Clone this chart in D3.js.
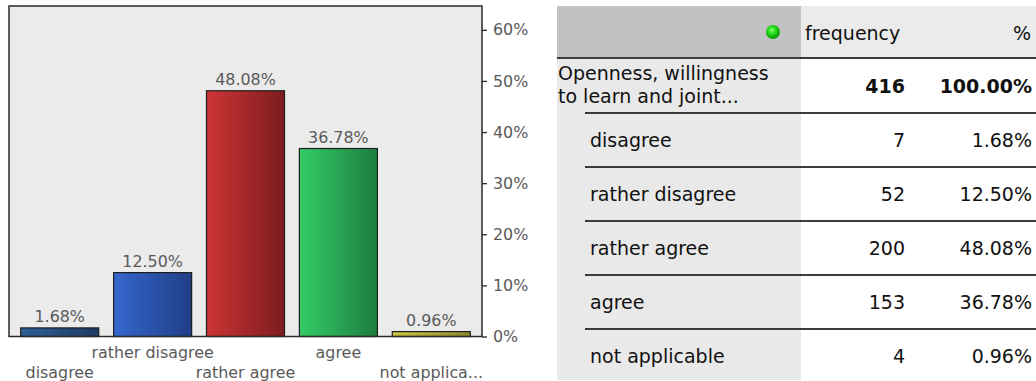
<!DOCTYPE html>
<html>
<head>
<meta charset="utf-8">
<script src="https://cdn.jsdelivr.net/npm/d3@7"></script>
<style>
  html, body { margin: 0; padding: 0; background: #fff; }
  svg { display: block; }
</style>
</head>
<body>
<svg id="view" width="1036" height="381"></svg>
<script>
// Survey item and its answer distribution
const question = ["Openness, willingness", "to learn and joint..."];
const categories = ["disagree", "rather disagree", "rather agree", "agree", "not applicable"];
const axisLabels = ["disagree", "rather disagree", "rather agree", "agree", "not applica..."];
const counts = [7, 52, 200, 153, 4];
const percents = [1.68, 12.50, 48.08, 36.78, 0.96];
const total = 416;
const totalPercent = "100.00%";
const yTicks = [0, 10, 20, 30, 40, 50, 60];
const colHeaders = ["frequency", "%"];
const barColors = [
  ["#2f6098", "#1c3a62"],
  ["#3567cd", "#203e86"],
  ["#cd3435", "#7c1c1e"],
  ["#34cc67", "#1d7d3f"],
  ["#cbc642", "#8d8829"]
];

const svg = d3.select("#view");
const chartFont = "'DejaVu Sans', Verdana, sans-serif";
const chartSize = 15.9;

// ---------- bar chart ----------
const plot = { left: 9, right: 482, top: 6, bottom: 336.5 };

const x = d3.scaleBand()
  .domain(categories)
  .range([plot.left, plot.right])
  .paddingInner(0.16)
  .paddingOuter(0.126);

const y = d3.scaleLinear()
  .domain([0, 64.66])
  .range([plot.bottom, plot.top]);

const defs = svg.append("defs");
categories.forEach((c, i) => {
  const g = defs.append("linearGradient")
    .attr("id", "bar" + i)
    .attr("x1", "0").attr("x2", "1").attr("y1", "0").attr("y2", "0");
  g.append("stop").attr("offset", "0").attr("stop-color", barColors[i][0]);
  g.append("stop").attr("offset", "1").attr("stop-color", barColors[i][1]);
});

const chart = svg.append("g");

chart.append("rect")
  .attr("x", plot.left).attr("y", plot.top)
  .attr("width", plot.right - plot.left)
  .attr("height", plot.bottom - plot.top)
  .attr("fill", "#ebebeb");

chart.selectAll("rect.bar")
  .data(categories)
  .join("rect")
  .attr("class", "bar")
  .attr("x", d => x(d))
  .attr("y", (d, i) => y(percents[i]))
  .attr("width", x.bandwidth())
  .attr("height", (d, i) => y(0) - y(percents[i]))
  .attr("fill", (d, i) => `url(#bar${i})`)
  .attr("stroke", "#1e1e1e")
  .attr("stroke-width", 1.2);

chart.selectAll("text.val")
  .data(categories)
  .join("text")
  .attr("class", "val")
  .attr("x", d => x(d) + x.bandwidth() / 2)
  .attr("y", (d, i) => y(percents[i]) - 6)
  .attr("text-anchor", "middle")
  .attr("font-family", chartFont)
  .attr("font-size", chartSize)
  .attr("fill", "#5a5a5a")
  .text((d, i) => percents[i].toFixed(2) + "%");

// plot frame
chart.append("rect")
  .attr("x", plot.left).attr("y", plot.top)
  .attr("width", plot.right - plot.left)
  .attr("height", plot.bottom - plot.top)
  .attr("fill", "none")
  .attr("stroke", "#2a2a2a")
  .attr("stroke-width", 1.5);

// value axis on the right
const yAxis = chart.append("g")
  .attr("transform", `translate(${plot.right},0)`)
  .call(d3.axisRight(y).tickValues(yTicks).tickSize(5).tickPadding(6).tickFormat(d => d + "%"));
yAxis.select(".domain").remove();
yAxis.selectAll(".tick line").attr("stroke", "#2a2a2a").attr("stroke-width", 1.3);
yAxis.selectAll(".tick text")
  .attr("font-family", chartFont)
  .attr("font-size", chartSize)
  .attr("fill", "#5a5a5a");

// category axis with staggered labels
const xAxis = chart.append("g")
  .attr("transform", `translate(0,${plot.bottom})`)
  .call(d3.axisBottom(x).tickSize(0).tickFormat((d, i) => axisLabels[i]));
xAxis.select(".domain").remove();
xAxis.selectAll(".tick text")
  .attr("font-family", chartFont)
  .attr("font-size", chartSize)
  .attr("fill", "#5a5a5a")
  .attr("dy", null)
  .attr("y", (d, i) => i % 2 === 1 ? 21.5 : 41.5);

// ---------- frequency table ----------
const tableFont = "'DejaVu Sans', Verdana, sans-serif";
const tab = { left: 557, split: 801, right: 1036, top: 6, head: 57.5, bottom: 380 };
const rowTop = 59;
const firstRowH = 54;
const rowH = 54;
const numRight = 905;
const pctRight = 1032;
const lineColor = "#3c3c3c";

const table = svg.append("g");

table.append("rect")
  .attr("x", tab.left).attr("y", tab.top)
  .attr("width", tab.split - tab.left).attr("height", tab.head - tab.top)
  .attr("fill", "#c2c2c2");
table.append("rect")
  .attr("x", tab.split).attr("y", tab.top)
  .attr("width", tab.right - tab.split).attr("height", tab.head - tab.top)
  .attr("fill", "#ebebeb");
table.append("rect")
  .attr("x", tab.left).attr("y", tab.head)
  .attr("width", tab.split - tab.left).attr("height", tab.bottom - tab.head)
  .attr("fill", "#e9e9e9");

// status light in the header
const glow = defs.append("radialGradient").attr("id", "lamp")
  .attr("cx", "0.42").attr("cy", "0.38").attr("r", "0.6");
glow.append("stop").attr("offset", "0").attr("stop-color", "#8aff70");
glow.append("stop").attr("offset", "0.5").attr("stop-color", "#1fd814");
glow.append("stop").attr("offset", "1").attr("stop-color", "#0e940a");
table.append("circle")
  .attr("cx", 773).attr("cy", 32).attr("r", 7)
  .attr("fill", "url(#lamp)");

table.append("text")
  .attr("x", 805).attr("y", 40)
  .attr("font-family", tableFont).attr("font-size", 19).attr("fill", "#111")
  .text(colHeaders[0]);
table.append("text")
  .attr("x", pctRight - 1).attr("y", 40).attr("text-anchor", "end")
  .attr("font-family", tableFont).attr("font-size", 19).attr("fill", "#111")
  .text(colHeaders[1]);

// header rule
table.append("line")
  .attr("x1", tab.left).attr("x2", tab.right)
  .attr("y1", 58).attr("y2", 58)
  .attr("stroke", lineColor).attr("stroke-width", 2.2);

// total row
table.selectAll("text.q")
  .data(question)
  .join("text")
  .attr("class", "q")
  .attr("x", 558)
  .attr("y", (d, i) => 80 + i * 23)
  .attr("font-family", tableFont).attr("font-size", 19).attr("fill", "#111")
  .text(d => d);
const totalMid = rowTop + firstRowH / 2;
table.append("text")
  .attr("x", numRight).attr("y", totalMid + 7).attr("text-anchor", "end")
  .attr("font-family", tableFont).attr("font-size", 19).attr("font-weight", "bold").attr("fill", "#111")
  .text(total);
table.append("text")
  .attr("x", pctRight).attr("y", totalMid + 7).attr("text-anchor", "end")
  .attr("font-family", tableFont).attr("font-size", 19).attr("font-weight", "bold").attr("fill", "#111")
  .text(totalPercent);

// category rows
const rowsTop = rowTop + firstRowH;
const rows = table.selectAll("g.row")
  .data(categories)
  .join("g")
  .attr("class", "row")
  .attr("transform", (d, i) => `translate(0,${rowsTop + i * rowH})`);

rows.append("line")
  .attr("x1", 585).attr("x2", tab.right)
  .attr("y1", 0).attr("y2", 0)
  .attr("stroke", lineColor).attr("stroke-width", 2.2);
rows.append("text")
  .attr("x", 590).attr("y", rowH / 2 + 7)
  .attr("font-family", tableFont).attr("font-size", 19).attr("fill", "#111")
  .text(d => d);
rows.append("text")
  .attr("x", numRight).attr("y", rowH / 2 + 7).attr("text-anchor", "end")
  .attr("font-family", tableFont).attr("font-size", 19).attr("fill", "#111")
  .text((d, i) => counts[i]);
rows.append("text")
  .attr("x", pctRight).attr("y", rowH / 2 + 7).attr("text-anchor", "end")
  .attr("font-family", tableFont).attr("font-size", 19).attr("fill", "#111")
  .text((d, i) => percents[i].toFixed(2) + "%");
</script>
</body>
</html>
